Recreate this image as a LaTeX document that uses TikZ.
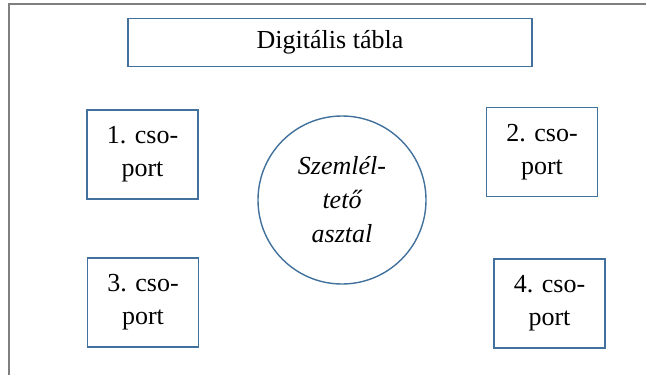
\documentclass[tikz,border=0pt]{standalone}
\usepackage{fontspec}
\setmainfont{Liberation Serif}
\usepackage{xcolor}
\usepackage{tikz}
\usetikzlibrary{positioning}
\definecolor{boxblue}{HTML}{41719C}
\definecolor{framegray}{HTML}{7F7F7F}

\begin{document}
\begin{tikzpicture}[
  x=1pt, y=-1pt,
  every node/.style={font=\fontsize{26}{33}\selectfont, text=black},
  block/.style={rectangle, draw=boxblue, line width=1.8pt, fill=white, align=center, inner sep=0pt},
  groupbox/.style={block, minimum width=111pt, minimum height=89pt},
  tablecircle/.style={circle, draw=boxblue, line width=1.4pt, align=center, inner sep=0pt, minimum size=168pt,
    font=\fontsize{26}{34}\selectfont\itshape}
]
  \useasboundingbox (0,0) rectangle (646,375);
  \draw[framegray, line width=1.6pt] (9,375) -- (9,4) -- (646,4);
  \node[block, minimum width=404pt, minimum height=48pt] (board) at (330,42.5) {Digitális tábla};
  \node[groupbox] (g1) at (142.5,154.5) {1. cso-\\port};
  \node[groupbox] (g2) at (542,152) {2. cso-\\port};
  \node[groupbox] (g3) at (143,302.5) {3. cso-\\port};
  \node[groupbox] (g4) at (549.5,303.5) {4. cso-\\port};
  \node[tablecircle] (desk) at (342,200) {Szemlél-\\tető\\asztal};
\end{tikzpicture}
\end{document}
